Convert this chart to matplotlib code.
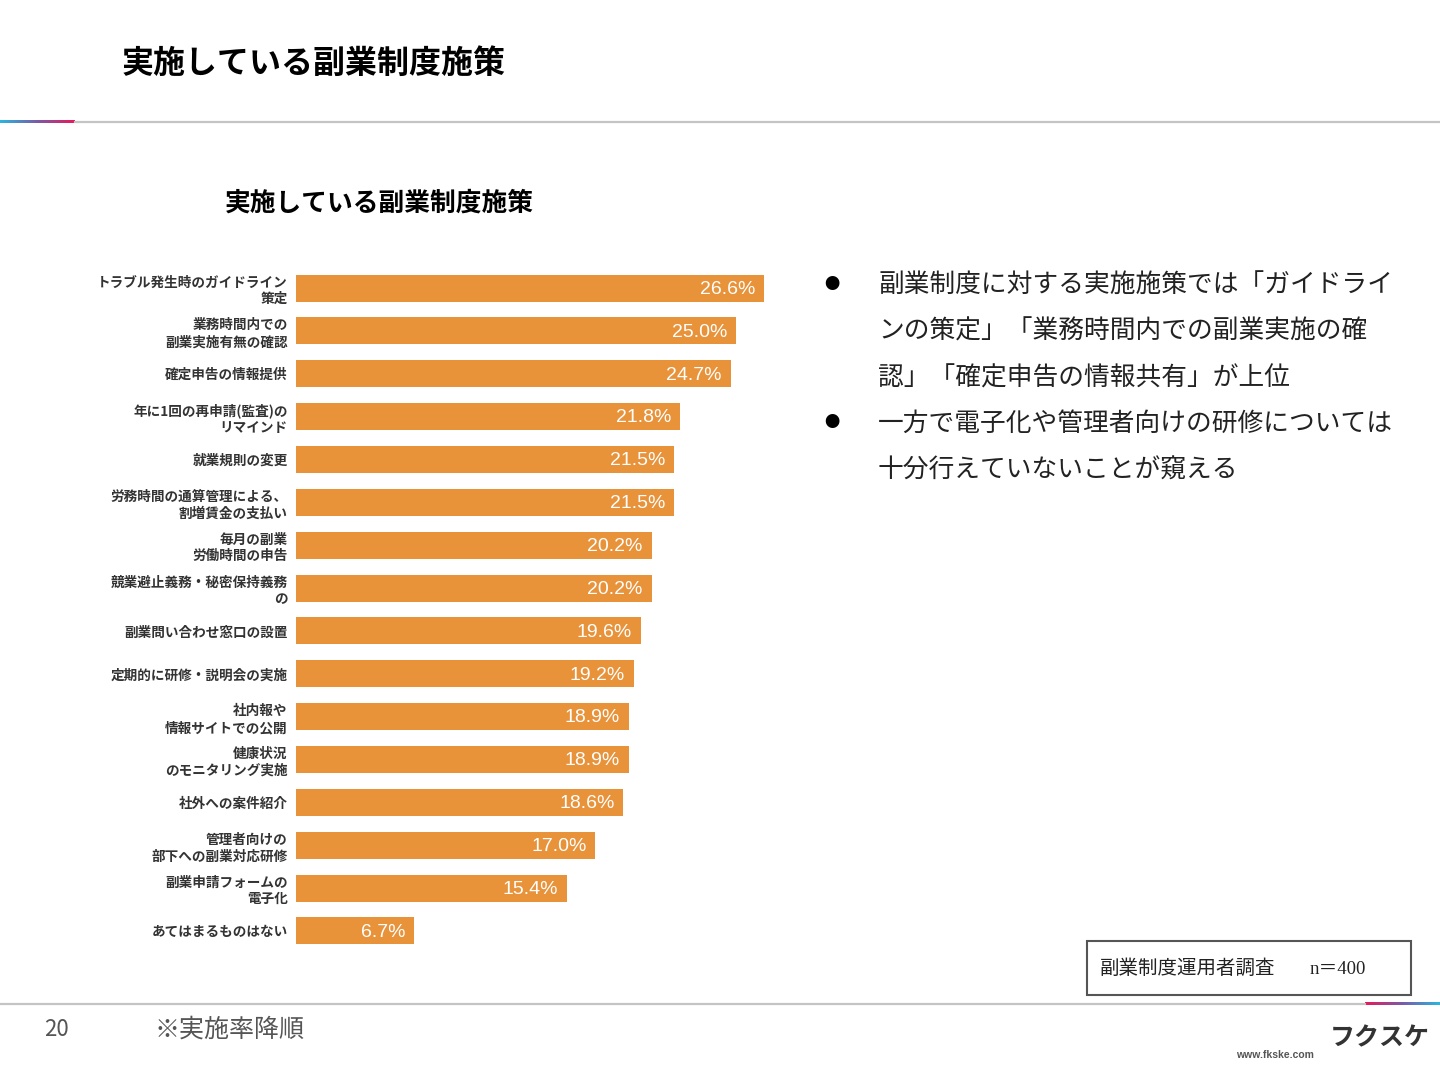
import numpy as np
import matplotlib.pyplot as plt
from matplotlib.colors import LinearSegmentedColormap

plt.rcParams['font.family'] = ['Noto Sans CJK JP', 'DejaVu Sans']

labels = ['トラブル発生時のガイドライン\n策定', '業務時間内での\n副業実施有無の確認', '確定申告の情報提供',
          '年に1回の再申請(監査)の\nリマインド', '就業規則の変更', '労務時間の通算管理による、\n割増賃金の支払い',
          '毎月の副業\n労働時間の申告', '競業避止義務・秘密保持義務\nの', '副業問い合わせ窓口の設置',
          '定期的に研修・説明会の実施', '社内報や\n情報サイトでの公開', '健康状況\nのモニタリング実施',
          '社外への案件紹介', '管理者向けの\n部下への副業対応研修', '副業申請フォームの\n電子化', 'あてはまるものはない']
values = [26.6, 25.0, 24.7, 21.8, 21.5, 21.5, 20.2, 20.2, 19.6, 19.2, 18.9, 18.9, 18.6, 17.0, 15.4, 6.7]

bullets = ['副業制度に対する実施施策では「ガイドライ\nンの策定」「業務時間内での副業実施の確\n認」「確定申告の情報共有」が上位',
           '一方で電子化や管理者向けの研修については\n十分行えていないことが窺える']

W, H = 1440, 1080
fig = plt.figure(figsize=(14.4, 10.8), dpi=100)

# background overlay axes in pixel coords
bg = fig.add_axes([0, 0, 1, 1])
bg.set_xlim(0, W)
bg.set_ylim(H, 0)
bg.axis('off')

# header line with gradient
cm1 = LinearSegmentedColormap.from_list('g1', ['#29b6e0', '#7a5aa8', '#e8185a'])
grad = np.linspace(0, 1, 100).reshape(1, -1)
bg.imshow(grad, cmap=cm1, extent=[0, 75, 123.5, 121], aspect='auto')
bg.plot([75, W], [122, 122], color='#c4c4c4', lw=1.6)
# footer line
bg.plot([0, 1365], [1004, 1004], color='#c4c4c4', lw=1.6)
cm2 = LinearSegmentedColormap.from_list('g2', ['#e8185a', '#7a5aa8', '#29b6e0'])
bg.imshow(grad, cmap=cm2, extent=[1365, W, 1005.5, 1003], aspect='auto')

bg.text(122, 64, '実施している副業制度施策', fontsize=23, fontweight='bold', va='center', ha='left')
bg.text(225, 203, '実施している副業制度施策', fontsize=18.5, fontweight='bold', va='center', ha='left')

for i, b in enumerate(bullets):
    y0 = [284, 423][i]
    bg.text(832, y0, '●', fontsize=11, va='center', ha='center')
    bg.text(878, y0 - 12, b, fontsize=18.5, va='top', ha='left', linespacing=2.03, color='#222222')

bg.add_patch(plt.Rectangle((1087, 941), 324, 54, fill=False, ec='#555555', lw=1.5))
bg.text(1100, 968, '副業制度運用者調査', fontsize=14, va='center', ha='left', color='#222222')
bg.text(1310, 969, 'n＝400', fontsize=13.5, va='center', ha='left', color='#222222',
        family=['Liberation Serif', 'Noto Sans CJK JP'])

bg.text(44, 1030, '20', fontsize=16, va='center', ha='left', color='#555555')
bg.text(155, 1030, '※実施率降順', fontsize=18, va='center', ha='left', color='#555555')
bg.text(1380, 1038, 'フクスケ', fontsize=18, va='center', ha='center', color='#333333', style='italic',
        fontweight='bold')
bg.text(1275, 1055, 'www.fkske.com', fontsize=7.5, va='center', ha='center', color='#555555', fontweight='bold',
        family='Liberation Sans')

# bar chart
ax = fig.add_axes([296 / W, 1 - 952.4 / H, 528 / W, (952.4 - 266.6) / H])
y = np.arange(len(values))
ax.barh(y, values, height=0.63, color='#e8923a')
ax.set_xlim(0, 30)
ax.set_ylim(len(values) - 0.5, -0.5)
ax.set_yticks(y)
ax.set_yticklabels(labels, fontsize=9.8, fontweight='bold', color='#333333', linespacing=1.25)
ax.tick_params(axis='y', length=0, pad=6)
ax.set_xticks([])
for s in ax.spines.values():
    s.set_visible(False)
ax.patch.set_alpha(0)
for yi, v in zip(y, values):
    ax.text(v - 0.5, yi + 0.03, f'{v:.1f}%', color='white', fontsize=14, va='center', ha='right',
            family='Liberation Sans')

fig.savefig('out.png', dpi=100)
